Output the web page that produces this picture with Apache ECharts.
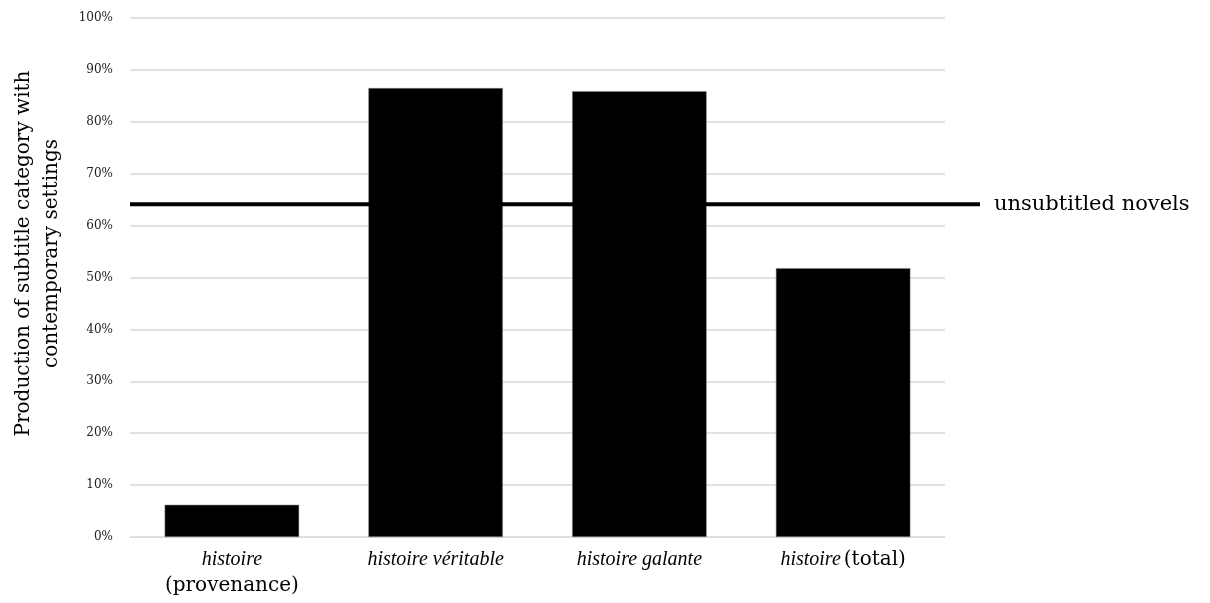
<!DOCTYPE html>
<html><head><meta charset="utf-8">
<script src="https://cdn.jsdelivr.net/npm/echarts@6/dist/echarts.min.js"></script>
<style>html,body{margin:0;padding:0;background:#fff}#c{width:1210px;height:603px}</style>
</head><body><div id="c"></div>
<script>
const categories = ['histoire|(provenance)', 'histoire véritable', 'histoire galante', 'histoire|(total)'];
const values = [6.2, 86.5, 85.9, 51.8];
const unsubtitledValue = 64.1;
const unsubtitledLabel = 'unsubtitled novels';
const yTicks = [0, 10, 20, 30, 40, 50, 60, 70, 80, 90, 100];

const serif = '"Liberation Serif", "DejaVu Serif", serif';
const wideSerif = '"DejaVu Serif", "Liberation Serif", serif';
const chart = echarts.init(document.getElementById('c'));
function catLabel(v) {
  if (v === 'histoire|(provenance)') return '{i|histoire}\n{n|(provenance)}';
  if (v === 'histoire|(total)') return '{i|histoire} {n|(total)}';
  return '{i|' + v + '}';
}
chart.setOption({
  animation: false,
  textStyle: { fontFamily: serif },
  grid: [
    { left: 130, right: 265, top: 18, bottom: 66, containLabel: false },
    { left: 130, right: 230, top: 18, bottom: 66, containLabel: false }
  ],
  xAxis: [
    { type: 'category', gridIndex: 0, data: categories,
      axisLine: { show: true, lineStyle: { color: '#d9d9d9', width: 1 } },
      axisTick: { show: false },
      axisLabel: { margin: 10, formatter: catLabel, lineHeight: 26,
        rich: { i: { fontFamily: serif, fontStyle: 'italic', fontSize: 20, color: '#000', lineHeight: 26 },
                n: { fontFamily: wideSerif, fontSize: 20, color: '#000', lineHeight: 26 } } } },
    { type: 'value', gridIndex: 1, min: 0, max: 1, show: false }
  ],
  yAxis: [
    { type: 'value', gridIndex: 0, min: 0, max: 100, interval: 10,
      name: 'Production of subtitle category with\ncontemporary settings',
      nameLocation: 'middle', nameGap: 64, nameRotate: 90,
      nameTextStyle: { fontFamily: wideSerif, fontSize: 20, color: '#000', lineHeight: 28, padding: [0, 0, 0, 48] },
      axisLine: { show: false }, axisTick: { show: false },
      axisLabel: { formatter: v => yTicks.includes(v) ? v + '%' : '', fontFamily: wideSerif, fontSize: 12, color: '#222', margin: 17 },
      splitLine: { lineStyle: { color: '#d9d9d9', width: 1.5 } } },
    { type: 'value', gridIndex: 1, min: 0, max: 100, show: false }
  ],
  series: [
    { type: 'bar', xAxisIndex: 0, yAxisIndex: 0, data: values, barWidth: '66%',
      itemStyle: { color: '#000', borderColor: '#888', borderWidth: 0.5 } },
    { type: 'line', xAxisIndex: 1, yAxisIndex: 1, symbol: 'none',
      data: [[0, unsubtitledValue], [1, unsubtitledValue]],
      lineStyle: { color: '#000', width: 4 },
      endLabel: { show: true, formatter: unsubtitledLabel, fontFamily: wideSerif, fontSize: 21, color: '#000', distance: 14 } }
  ]
});
</script></body></html>
